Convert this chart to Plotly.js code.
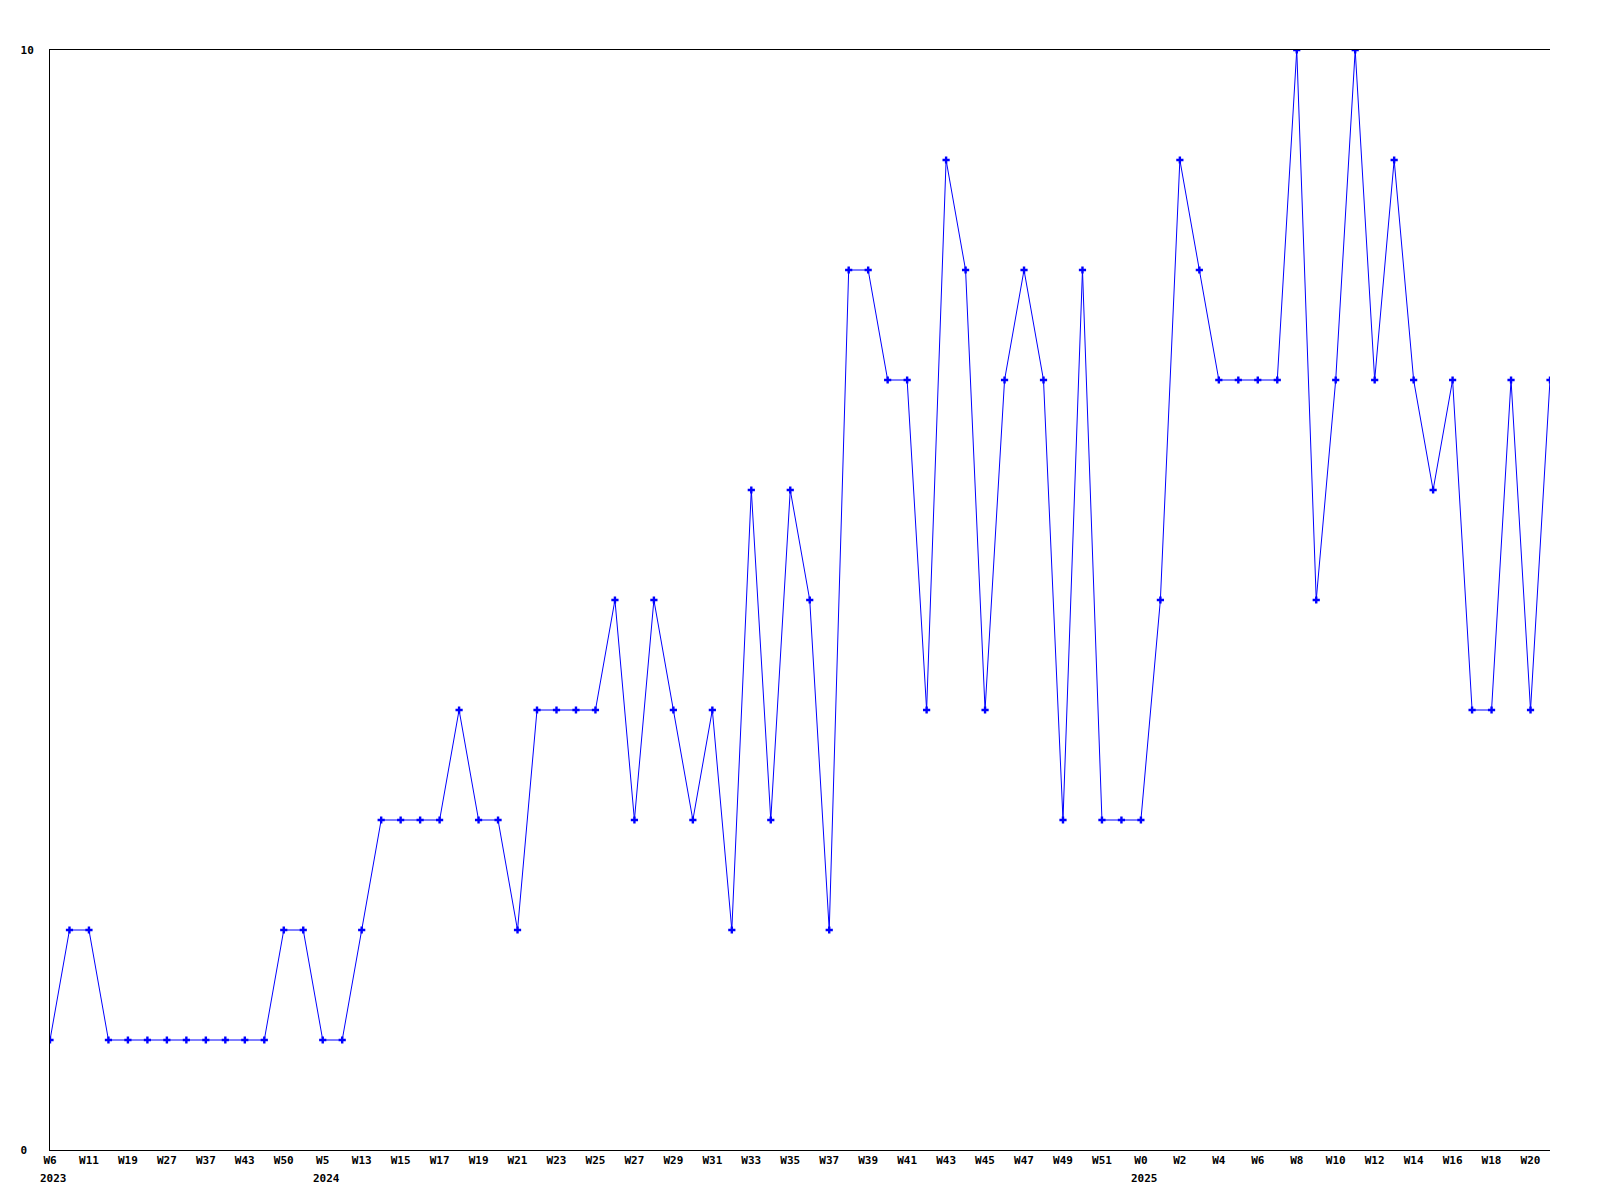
<!DOCTYPE html>
<html>
<head>
<meta charset="utf-8">
<script src="https://cdn.plot.ly/plotly-3.0.1.min.js"></script>
<style>html,body{margin:0;padding:0;background:#fff;}#chart{width:1600px;height:1200px;}</style>
</head>
<body>
<div id="chart"></div>
<script>
// Values per point (78 weekly points)
const values = [
  1, 2, 2, 1, 1, 1, 1, 1, 1, 1, 1, 1, 2, 2, 1, 1, 2, 3, 3, 3,
  3, 4, 3, 3, 2, 4, 4, 4, 4, 5, 3, 5, 4, 3, 4, 2, 6, 3, 6, 5,
  2, 8, 8, 7, 7, 4, 9, 8, 4, 7, 8, 7, 3, 8, 3, 3, 3, 5, 9, 8,
  7, 7, 7, 7, 10, 5, 7, 10, 7, 9, 7, 6, 7, 4, 4, 7, 4, 7
];
// Tick labels shown on every second point
const weekLabels = [
  'W6', 'W11', 'W19', 'W27', 'W37', 'W43', 'W50', 'W5', 'W13', 'W15',
  'W17', 'W19', 'W21', 'W23', 'W25', 'W27', 'W29', 'W31', 'W33', 'W35',
  'W37', 'W39', 'W41', 'W43', 'W45', 'W47', 'W49', 'W51', 'W0', 'W2',
  'W4', 'W6', 'W8', 'W10', 'W12', 'W14', 'W16', 'W18', 'W20'
];
// Year labels and the week-label index they sit under
const yearLabels = ['2023', '2024', '2025'];
const yearAtWeekLabel = [0, 7, 28];
// Y axis tick values / labels
const yTickVals = [0, 10];
const yTickText = ['0\u00A0', '10'];

const LABEL_STEP = 2;
const xIdx = values.map((_, i) => i);
const tickVals = weekLabels.map((_, k) => k * LABEL_STEP);

const font = {family: 'DejaVu Sans Mono, monospace', size: 11, color: '#000', weight: 'bold'};

const trace = {
  x: xIdx,
  y: values,
  type: 'scatter',
  mode: 'lines+markers',
  line: {color: '#0000ff', width: 1},
  marker: {symbol: 'cross', size: 6, color: '#0000ff', line: {width: 0}},
  hoverinfo: 'none'
};

const annotations = yearLabels.map((t, k) => ({
  text: t,
  x: yearAtWeekLabel[k] * LABEL_STEP,
  xref: 'x',
  y: -0.019,
  yref: 'paper',
  xanchor: 'left',
  yanchor: 'top',
  xshift: -11,
  showarrow: false,
  font: font,
  borderpad: 0
}));

const layout = {
  width: 1600,
  height: 1200,
  margin: {l: 50, r: 50, t: 50, b: 50, pad: 0},
  paper_bgcolor: '#fff',
  plot_bgcolor: '#fff',
  showlegend: false,
  xaxis: {
    range: [0, values.length - 1],
    showgrid: false,
    zeroline: false,
    showline: true,
    linecolor: '#000',
    linewidth: 1,
    mirror: true,
    ticks: '',
    tickmode: 'array',
    tickvals: tickVals,
    ticktext: weekLabels,
    tickangle: 0,
    tickfont: font,
    ticklabelstandoff: 0
  },
  yaxis: {
    range: [0, 10],
    showgrid: false,
    zeroline: false,
    showline: true,
    linecolor: '#000',
    linewidth: 1,
    mirror: false,
    ticks: '',
    tickmode: 'array',
    tickvals: yTickVals,
    ticktext: yTickText,
    tickfont: font,
    ticklabelstandoff: 13
  },
  annotations: annotations
};

Plotly.newPlot('chart', [trace], layout, {displayModeBar: false, staticPlot: true});
</script>
</body>
</html>
